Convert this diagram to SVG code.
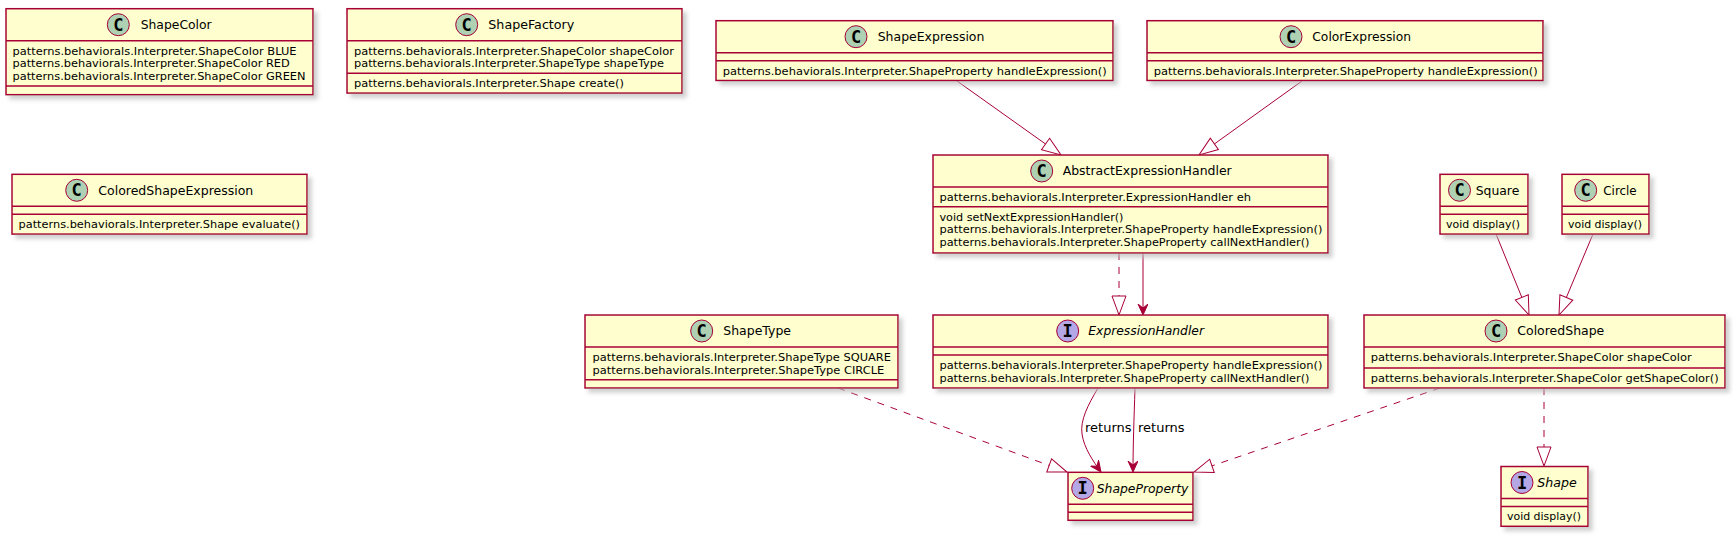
<svg xmlns="http://www.w3.org/2000/svg" width="1735" height="536" viewBox="0 0 1735 536">
<style>
.box{fill:#FEFECE;stroke:#A80036;stroke-width:1.5;filter:url(#sh)}
.sep{stroke:#A80036;stroke-width:1.5}
.ic{fill:#ADD1B2;stroke:#A80036;stroke-width:1}
.ii{fill:#B4A7E5;stroke:#A80036;stroke-width:1}
.cl{font-family:"DejaVu Sans Mono",monospace;font-weight:bold;font-size:17px;text-anchor:middle;fill:#000}
.nm{font-family:"DejaVu Sans",sans-serif;font-size:12px;fill:#000}
.it{font-style:italic}
.mb{font-family:"DejaVu Sans",sans-serif;font-size:11px;fill:#000}
.ln{stroke:#A80036;stroke-width:1;fill:none}
.dash{stroke-dasharray:7,7}
.lbl{font-family:"DejaVu Sans",sans-serif;font-size:13px;fill:#000}
</style>
<defs>
<filter id="sh" x="-10%" y="-20%" width="130%" height="150%">
<feGaussianBlur in="SourceAlpha" stdDeviation="2" result="b"/>
<feOffset in="b" dx="4" dy="4" result="o"/>
<feColorMatrix in="o" type="matrix" values="0 0 0 0 0.5  0 0 0 0 0.5  0 0 0 0 0.5  0 0 0 0.7 0" result="s"/>
<feMerge><feMergeNode in="s"/><feMergeNode in="SourceGraphic"/></feMerge>
</filter>
<marker id="tri" markerUnits="userSpaceOnUse" markerWidth="24" markerHeight="18" refX="20" refY="8" orient="auto">
<path d="M1,1 L20,8 L1,15 Z" fill="#FFFFFF" stroke="#A80036" stroke-width="1"/>
</marker>
<marker id="arr" markerUnits="userSpaceOnUse" markerWidth="14" markerHeight="12" refX="11" refY="5" orient="auto">
<path d="M0,0 L11,5 L0,10 L4,5 Z" fill="#A80036" stroke="#A80036" stroke-width="1"/>
</marker>
</defs>
<rect width="1735" height="536" fill="#FFFFFF"/>

<g id="connectors">
<line class="ln" x1="957" y1="81" x2="1061" y2="155" marker-end="url(#tri)"/>
<line class="ln" x1="1302" y1="81" x2="1199" y2="155" marker-end="url(#tri)"/>
<line class="ln dash" x1="1119" y1="253" x2="1119" y2="315" marker-end="url(#tri)"/>
<line class="ln" x1="1143" y1="253" x2="1143" y2="315" marker-end="url(#arr)"/>
<line class="ln" x1="1496" y1="234" x2="1529" y2="315" marker-end="url(#tri)"/>
<line class="ln" x1="1593" y1="234" x2="1559" y2="315" marker-end="url(#tri)"/>
<path class="ln" d="M1098,388 C1088,405 1080,420 1082,434 C1084,448 1093,461 1101,472" marker-end="url(#arr)"/>
<path class="ln" d="M1135,388 C1134,420 1133,445 1133,472" marker-end="url(#arr)"/>
<text class="lbl" x="1085" y="432">returns</text>
<text class="lbl" x="1138" y="432">returns</text>
<line class="ln dash" x1="838" y1="388" x2="1067" y2="472" marker-end="url(#tri)"/>
<line class="ln dash" x1="1440" y1="388" x2="1194" y2="472" marker-end="url(#tri)"/>
<line class="ln dash" x1="1544" y1="388" x2="1544" y2="466" marker-end="url(#tri)"/>
</g>

<g id="ShapeColor">
<rect class="box" x="6" y="8.7" width="307" height="86"/>
<circle class="ic" cx="118.3" cy="24.7" r="11"/>
<text class="cl" x="118.3" y="30.7">C</text>
<text class="nm" x="140.7" y="29" textLength="71" lengthAdjust="spacingAndGlyphs">ShapeColor</text>
<line class="sep" x1="6" y1="40.7" x2="313" y2="40.7"/>
<text class="mb" x="12.5" y="54.5" textLength="284" lengthAdjust="spacingAndGlyphs">patterns.behaviorals.Interpreter.ShapeColor BLUE</text>
<text class="mb" x="12.5" y="67.3" textLength="277.3" lengthAdjust="spacingAndGlyphs">patterns.behaviorals.Interpreter.ShapeColor RED</text>
<text class="mb" x="12.5" y="80.1" textLength="293" lengthAdjust="spacingAndGlyphs">patterns.behaviorals.Interpreter.ShapeColor GREEN</text>
<line class="sep" x1="6" y1="86.1" x2="313" y2="86.1"/>
</g>

<g id="ShapeFactory">
<rect class="box" x="347" y="8.7" width="335" height="84.4"/>
<circle class="ic" cx="466.7" cy="24.7" r="11"/>
<text class="cl" x="466.7" y="30.7">C</text>
<text class="nm" x="488.3" y="29" textLength="86" lengthAdjust="spacingAndGlyphs">ShapeFactory</text>
<line class="sep" x1="347" y1="40.7" x2="682" y2="40.7"/>
<text class="mb" x="354" y="54.5" textLength="320" lengthAdjust="spacingAndGlyphs">patterns.behaviorals.Interpreter.ShapeColor shapeColor</text>
<text class="mb" x="354" y="67.3" textLength="310" lengthAdjust="spacingAndGlyphs">patterns.behaviorals.Interpreter.ShapeType shapeType</text>
<line class="sep" x1="347" y1="73.3" x2="682" y2="73.3"/>
<text class="mb" x="354" y="87.1" textLength="270" lengthAdjust="spacingAndGlyphs">patterns.behaviorals.Interpreter.Shape create()</text>
</g>

<g id="ShapeExpression">
<rect class="box" x="716" y="20.7" width="397" height="59.8"/>
<circle class="ic" cx="856" cy="36.7" r="11"/>
<text class="cl" x="856" y="42.7">C</text>
<text class="nm" x="877.7" y="41" textLength="106.7" lengthAdjust="spacingAndGlyphs">ShapeExpression</text>
<line class="sep" x1="716" y1="52.7" x2="1113" y2="52.7"/>
<line class="sep" x1="716" y1="60.7" x2="1113" y2="60.7"/>
<text class="mb" x="722.7" y="74.5" textLength="384" lengthAdjust="spacingAndGlyphs">patterns.behaviorals.Interpreter.ShapeProperty handleExpression()</text>
</g>

<g id="ColorExpression">
<rect class="box" x="1147" y="20.7" width="396" height="59.8"/>
<circle class="ic" cx="1291" cy="36.7" r="11"/>
<text class="cl" x="1291" y="42.7">C</text>
<text class="nm" x="1312.3" y="41" textLength="98.7" lengthAdjust="spacingAndGlyphs">ColorExpression</text>
<line class="sep" x1="1147" y1="52.7" x2="1543" y2="52.7"/>
<line class="sep" x1="1147" y1="60.7" x2="1543" y2="60.7"/>
<text class="mb" x="1153.7" y="74.5" textLength="384" lengthAdjust="spacingAndGlyphs">patterns.behaviorals.Interpreter.ShapeProperty handleExpression()</text>
</g>

<g id="ColoredShapeExpression">
<rect class="box" x="12" y="174.3" width="295" height="59.8"/>
<circle class="ic" cx="76.7" cy="190.3" r="11"/>
<text class="cl" x="76.7" y="196.3">C</text>
<text class="nm" x="98.3" y="194.6" textLength="155" lengthAdjust="spacingAndGlyphs">ColoredShapeExpression</text>
<line class="sep" x1="12" y1="206.3" x2="307" y2="206.3"/>
<line class="sep" x1="12" y1="214.3" x2="307" y2="214.3"/>
<text class="mb" x="18.5" y="228.1" textLength="281.5" lengthAdjust="spacingAndGlyphs">patterns.behaviorals.Interpreter.Shape evaluate()</text>
</g>

<g id="AbstractExpressionHandler">
<rect class="box" x="933" y="155" width="395" height="98"/>
<circle class="ic" cx="1041.7" cy="171" r="11"/>
<text class="cl" x="1041.7" y="177">C</text>
<text class="nm" x="1062.7" y="175.3" textLength="169" lengthAdjust="spacingAndGlyphs">AbstractExpressionHandler</text>
<line class="sep" x1="933" y1="187" x2="1328" y2="187"/>
<text class="mb" x="939.5" y="200.8" textLength="311.5" lengthAdjust="spacingAndGlyphs">patterns.behaviorals.Interpreter.ExpressionHandler eh</text>
<line class="sep" x1="933" y1="206.8" x2="1328" y2="206.8"/>
<text class="mb" x="939.5" y="220.6" textLength="184" lengthAdjust="spacingAndGlyphs">void setNextExpressionHandler()</text>
<text class="mb" x="939.5" y="233.4" textLength="383" lengthAdjust="spacingAndGlyphs">patterns.behaviorals.Interpreter.ShapeProperty handleExpression()</text>
<text class="mb" x="939.5" y="246.2" textLength="370" lengthAdjust="spacingAndGlyphs">patterns.behaviorals.Interpreter.ShapeProperty callNextHandler()</text>
</g>

<g id="Square">
<rect class="box" x="1440" y="174.3" width="88" height="59.8"/>
<circle class="ic" cx="1459.5" cy="190.3" r="11"/>
<text class="cl" x="1459.5" y="196.3">C</text>
<text class="nm" x="1475.7" y="194.6" textLength="43.6" lengthAdjust="spacingAndGlyphs">Square</text>
<line class="sep" x1="1440" y1="206.3" x2="1528" y2="206.3"/>
<line class="sep" x1="1440" y1="214.3" x2="1528" y2="214.3"/>
<text class="mb" x="1446" y="228.1" textLength="74" lengthAdjust="spacingAndGlyphs">void display()</text>
</g>

<g id="Circle">
<rect class="box" x="1562" y="174.3" width="87" height="59.8"/>
<circle class="ic" cx="1585.7" cy="190.3" r="11"/>
<text class="cl" x="1585.7" y="196.3">C</text>
<text class="nm" x="1603.3" y="194.6" textLength="33.4" lengthAdjust="spacingAndGlyphs">Circle</text>
<line class="sep" x1="1562" y1="206.3" x2="1649" y2="206.3"/>
<line class="sep" x1="1562" y1="214.3" x2="1649" y2="214.3"/>
<text class="mb" x="1568" y="228.1" textLength="74" lengthAdjust="spacingAndGlyphs">void display()</text>
</g>

<g id="ShapeType">
<rect class="box" x="585" y="315" width="313" height="73"/>
<circle class="ic" cx="701.7" cy="331" r="11"/>
<text class="cl" x="701.7" y="337">C</text>
<text class="nm" x="723.3" y="335.3" textLength="67.7" lengthAdjust="spacingAndGlyphs">ShapeType</text>
<line class="sep" x1="585" y1="347" x2="898" y2="347"/>
<text class="mb" x="592.5" y="360.8" textLength="298.5" lengthAdjust="spacingAndGlyphs">patterns.behaviorals.Interpreter.ShapeType SQUARE</text>
<text class="mb" x="592.5" y="373.6" textLength="291.8" lengthAdjust="spacingAndGlyphs">patterns.behaviorals.Interpreter.ShapeType CIRCLE</text>
<line class="sep" x1="585" y1="379.8" x2="898" y2="379.8"/>
</g>

<g id="ExpressionHandler">
<rect class="box" x="933" y="315" width="395" height="73"/>
<circle class="ii" cx="1067.7" cy="331" r="11"/>
<text class="cl" x="1067.7" y="337">I</text>
<text class="nm it" x="1088.3" y="335.3" textLength="115.7" lengthAdjust="spacingAndGlyphs">ExpressionHandler</text>
<line class="sep" x1="933" y1="347" x2="1328" y2="347"/>
<line class="sep" x1="933" y1="355" x2="1328" y2="355"/>
<text class="mb" x="939.5" y="368.8" textLength="383" lengthAdjust="spacingAndGlyphs">patterns.behaviorals.Interpreter.ShapeProperty handleExpression()</text>
<text class="mb" x="939.5" y="381.6" textLength="370" lengthAdjust="spacingAndGlyphs">patterns.behaviorals.Interpreter.ShapeProperty callNextHandler()</text>
</g>

<g id="ColoredShape">
<rect class="box" x="1364" y="315" width="361" height="73"/>
<circle class="ic" cx="1496" cy="331" r="11"/>
<text class="cl" x="1496" y="337">C</text>
<text class="nm" x="1517.3" y="335.3" textLength="87" lengthAdjust="spacingAndGlyphs">ColoredShape</text>
<line class="sep" x1="1364" y1="347" x2="1725" y2="347"/>
<text class="mb" x="1370.7" y="360.8" textLength="321" lengthAdjust="spacingAndGlyphs">patterns.behaviorals.Interpreter.ShapeColor shapeColor</text>
<line class="sep" x1="1364" y1="368" x2="1725" y2="368"/>
<text class="mb" x="1370.7" y="381.8" textLength="348" lengthAdjust="spacingAndGlyphs">patterns.behaviorals.Interpreter.ShapeColor getShapeColor()</text>
</g>

<g id="ShapeProperty">
<rect class="box" x="1068" y="472.3" width="125" height="48"/>
<circle class="ii" cx="1082.7" cy="488.3" r="11"/>
<text class="cl" x="1082.7" y="494.3">I</text>
<text class="nm it" x="1096.7" y="492.6" textLength="91.7" lengthAdjust="spacingAndGlyphs">ShapeProperty</text>
<line class="sep" x1="1068" y1="504.3" x2="1193" y2="504.3"/>
<line class="sep" x1="1068" y1="512.3" x2="1193" y2="512.3"/>
</g>

<g id="Shape">
<rect class="box" x="1501" y="466.5" width="87" height="59.8"/>
<circle class="ii" cx="1522" cy="482.5" r="11"/>
<text class="cl" x="1522" y="488.5">I</text>
<text class="nm it" x="1537.3" y="486.8" textLength="39.4" lengthAdjust="spacingAndGlyphs">Shape</text>
<line class="sep" x1="1501" y1="498.5" x2="1588" y2="498.5"/>
<line class="sep" x1="1501" y1="506.5" x2="1588" y2="506.5"/>
<text class="mb" x="1507" y="520.3" textLength="74" lengthAdjust="spacingAndGlyphs">void display()</text>
</g>
</svg>
